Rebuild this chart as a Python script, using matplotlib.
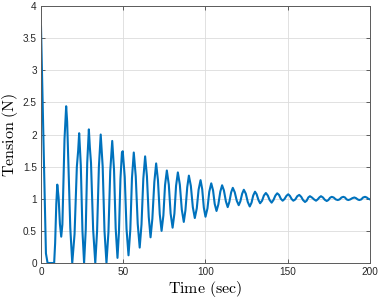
import numpy as np
import matplotlib
matplotlib.use('Agg')
import matplotlib.pyplot as plt

plt.rcParams['mathtext.fontset'] = 'cm'
plt.rcParams['font.family'] = ['Liberation Sans', 'DejaVu Sans']

# tension trace, point by point
t_sec = [0, 1.5, 3, 4, 7.5,
         8.0, 8.6, 9.3, 9.9, 10.7, 11.5, 12.3, 13.0, 14.3,
         15.3, 15.9, 17.8, 19.0, 20.4, 21.8, 22.6,
         23.2, 24.2, 25.2, 26.2, 27.2, 28.1,
         29.1, 29.7, 30.4, 31.7, 33.0, 34.1, 35.2,
         36.3, 37.5, 38.6, 39.8, 41.0, 42.1,
         43.3, 44.4, 45.4, 46.5, 47.4, 48.3, 49.2,
         49.7, 50.9, 52.0, 53.2, 54.3, 55.3,
         56.4, 57.6, 58.8, 60.0, 61.1, 62.2,
         63.3, 64.4, 65.5, 66.6, 67.7, 68.9,
         70.0, 71.1, 72.2, 73.3, 74.4, 75.4,
         76.5, 77.7, 78.8, 80.0, 81.1, 82.1,
         83.2, 84.4, 85.6, 86.8, 87.8, 88.9,
         89.9, 91.1, 92.3, 93.5, 94.7, 95.8,
         97.0, 98.0, 99.0, 100.0, 101.2, 102.3,
         103.5, 104.6, 105.6, 106.7, 107.8, 109.0,
         110.1, 111.2, 112.4, 113.5, 114.5, 115.6,
         116.6, 117.8, 119.0, 120.2, 121.2, 122.3,
         123.3, 124.5, 125.7, 126.9, 128.0, 129.0,
         130.1, 131.1, 132.2, 133.2, 134.4, 135.5,
         136.7, 137.9, 139.0, 140.2, 141.3, 142.5,
         143.6, 144.7, 145.8, 146.9, 148.0, 149.2,
         150.3, 151.3, 152.4, 153.4, 154.6, 155.8,
         157.0, 158.2, 159.3, 160.5, 161.5, 162.5,
         163.5, 164.7, 166.0, 167.2, 168.2, 169.2,
         170.2, 171.4, 172.5, 173.7, 174.7, 175.7,
         176.7, 177.9, 179.2, 180.4, 181.5, 182.7,
         183.8, 184.8, 185.8, 186.8, 188.0, 189.3,
         190.5, 191.5, 192.5, 193.5, 194.7, 195.8,
         197.0, 198.0, 199.0, 200.0]
tension = [3.68, 1.95, 0.15, 0.0, 0.0,
           0.0, 0.31, 0.92, 1.22, 1.02, 0.61, 0.41, 0.60, 1.93,
           2.44, 2.20, 0.55, 0.0, 0.45, 1.50, 1.75,
           2.02, 1.52, 0.50, 0.0, 0.52, 1.56,
           2.08, 1.80, 1.56, 0.52, 0.0, 0.50, 1.50,
           2.00, 1.50, 0.50, 0.0, 0.48, 1.43,
           1.90, 1.45, 0.54, 0.08, 0.49, 1.31, 1.72,
           1.74, 1.34, 0.53, 0.12, 0.52, 1.32,
           1.72, 1.35, 0.61, 0.24, 0.60, 1.31,
           1.66, 1.35, 0.72, 0.40, 0.69, 1.26,
           1.55, 1.29, 0.76, 0.50, 0.74, 1.21,
           1.44, 1.22, 0.77, 0.55, 0.77, 1.20,
           1.41, 1.22, 0.83, 0.64, 0.82, 1.18,
           1.36, 1.20, 0.87, 0.70, 0.85, 1.14,
           1.29, 1.15, 0.86, 0.72, 0.85, 1.11,
           1.24, 1.13, 0.92, 0.81, 0.91, 1.11,
           1.21, 1.13, 0.96, 0.87, 0.95, 1.10,
           1.17, 1.10, 0.97, 0.90, 0.96, 1.08,
           1.14, 1.08, 0.95, 0.88, 0.94, 1.05,
           1.11, 1.07, 0.98, 0.93, 0.97, 1.05,
           1.09, 1.05, 0.98, 0.94, 0.98, 1.05,
           1.085, 1.06, 1.00, 0.97, 0.995, 1.045,
           1.07, 1.045, 0.995, 0.97, 0.99, 1.04,
           1.06, 1.03, 0.98, 0.95, 0.97, 1.02,
           1.04, 1.02, 0.99, 0.97, 0.99, 1.02,
           1.04, 1.02, 0.985, 0.965, 0.98, 1.015,
           1.03, 1.02, 0.99, 0.98, 0.99, 1.02,
           1.03, 1.02, 0.99, 0.98, 0.99, 1.01,
           1.02, 1.01, 0.99, 0.98, 0.99, 1.02,
           1.03, 1.02, 1.00, 0.99]

x_ticks = [0, 50, 100, 150, 200]
y_ticks = [0, 0.5, 1, 1.5, 2, 2.5, 3, 3.5, 4]
y_tick_labels = ['0', '0.5', '1', '1.5', '2', '2.5', '3', '3.5', '4']

fig = plt.figure(figsize=(3.81, 3.01), dpi=100)
ax = fig.add_axes([0.1076, 0.1262, 0.8635, 0.8538])

ax.plot(t_sec, tension, color='#0072BD', lw=1.5)

ax.set_xlim(0, 200)
ax.set_ylim(0, 4)
ax.set_xticks(x_ticks)
ax.set_yticks(y_ticks)
ax.set_yticklabels(y_tick_labels)
ax.grid(True, color='#dcdcdc', lw=0.6)
ax.set_axisbelow(True)

ax.tick_params(direction='in', top=True, right=True, length=3, width=0.5,
               labelsize=7.2, colors='#262626', pad=3)
for s in ax.spines.values():
    s.set_color('#5a5a5a')
    s.set_linewidth(0.7)

ax.set_xlabel(r'$\mathrm{Time\ (sec)}$', fontsize=11.5, labelpad=1)
ax.set_ylabel(r'$\mathrm{Tension\ (N)}$', fontsize=11.5, labelpad=2)

fig.savefig('out.png', dpi=100)
